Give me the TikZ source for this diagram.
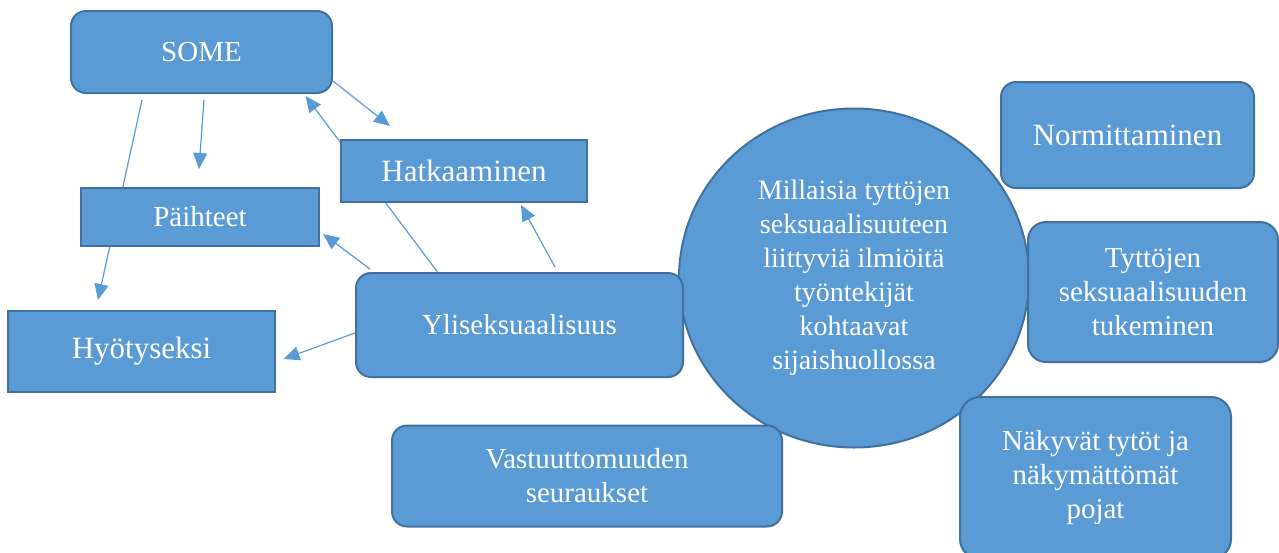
\documentclass[tikz,border=0pt]{standalone}
\usepackage{fontspec}
\setmainfont{Liberation Serif}
\usetikzlibrary{arrows.meta, backgrounds, shapes.geometric}
\definecolor{boxblue}{HTML}{5B9BD5}
\definecolor{boxline}{HTML}{41719C}
\begin{document}
\begin{tikzpicture}[x=1pt, y=1pt]
			\tikzstyle{block}=[draw=boxline, line width=2pt, fill=boxblue, text=white, inner sep=0pt, align=center, font=\fontsize{29}{34}\selectfont]
			\tikzstyle{rblock}=[block, rounded corners=15pt]
			\tikzstyle{link}=[draw=boxblue, line width=1.2pt, -{Triangle[length=16pt, width=14pt]}]
			\useasboundingbox (0,0) rectangle (1279,-552);
			\clip (0,0) rectangle (1279,-552);
			\node [block, ellipse, minimum width=350pt, minimum height=339pt, font=\fontsize{28}{34}\selectfont] (main) at (854,-278) {Millaisia tyttöjen\\seksuaalisuuteen\\liittyviä ilmiöitä\\työntekijät\\kohtaavat\\sijaishuollossa};
			\node [rblock, minimum width=261pt, minimum height=82pt] (some) at (201.5,-52) {SOME};
			\node [block, minimum width=246pt, minimum height=62pt, font=\fontsize{31}{34}\selectfont] (hatk) at (464,-171) {Hatkaaminen};
			\node [block, minimum width=238pt, minimum height=58pt] (paih) at (200,-217) {Päihteet};
			\node [block, minimum width=267pt, minimum height=81pt, font=\fontsize{31}{34}\selectfont] (hyot) at (141.5,-351.5) {Hyötyseksi};
			\node [rblock, minimum width=327pt, minimum height=104pt] (ylis) at (519.5,-325) {Yliseksuaalisuus};
			\node [rblock, minimum width=390pt, minimum height=101pt] (vast) at (587,-476) {Vastuuttomuuden\\seuraukset};
			\node [rblock, minimum width=253pt, minimum height=106pt, font=\fontsize{31}{34}\selectfont] (norm) at (1127.5,-135) {Normittaminen};
			\node [rblock, minimum width=250pt, minimum height=140pt, rounded corners=18pt] (tytt) at (1153,-292) {Tyttöjen\\seksuaalisuuden\\tukeminen};
			\node [rblock, minimum width=271pt, minimum height=162pt, rounded corners=20pt] (naky) at (1095.5,-478) {Näkyvät tytöt ja\\näkymättömät\\pojat};
			\begin{pgfonlayer}{background}
			\draw [link] ([yshift=-29pt]some.east) -- ([xshift=-74pt, yshift=13pt]hatk.north);
			\draw [link] ([xshift=-82pt]ylis.north) -- ([xshift=104pt, yshift=-2pt]some.south);
			\draw [link] ([xshift=2.5pt, yshift=-6pt]some.south) -- ([xshift=-1pt, yshift=18pt]paih.north);
			\draw [link] ([xshift=-59.5pt, yshift=-6pt]some.south) -- ([xshift=-43.5pt, yshift=10pt]hyot.north);
			\draw [link] ([xshift=15pt, yshift=3pt]ylis.north west) -- ([xshift=3pt, yshift=13pt]paih.south east);
			\draw [link] ([xshift=35.5pt, yshift=5pt]ylis.north) -- ([xshift=57pt, yshift=-2pt]hatk.south);
			\draw [link] ([yshift=-8pt]ylis.west) -- ([xshift=7.5pt, yshift=-7.5pt]hyot.east);
			\end{pgfonlayer}
		\end{tikzpicture}
\end{document}
